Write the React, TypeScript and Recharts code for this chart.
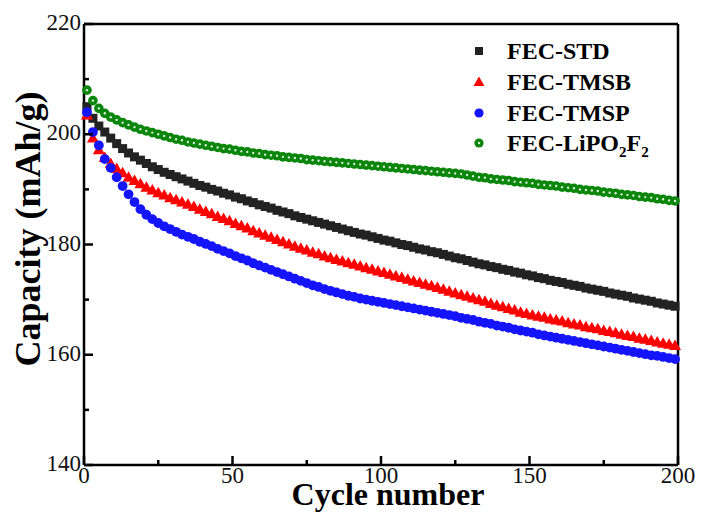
import {
  ScatterChart,
  Scatter,
  XAxis,
  YAxis,
  ReferenceLine,
  Customized,
} from "recharts";

const FONT = "'Times New Roman', 'Liberation Serif', serif";

const cycles = [
  1, 3, 5, 7, 9, 11, 13, 15, 17, 19,
  21, 23, 25, 27, 29, 31, 33, 35, 37, 39,
  41, 43, 45, 47, 49, 51, 53, 55, 57, 59,
  61, 63, 65, 67, 69, 71, 73, 75, 77, 79,
  81, 83, 85, 87, 89, 91, 93, 95, 97, 99,
  101, 103, 105, 107, 109, 111, 113, 115, 117, 119,
  121, 123, 125, 127, 129, 131, 133, 135, 137, 139,
  141, 143, 145, 147, 149, 151, 153, 155, 157, 159,
  161, 163, 165, 167, 169, 171, 173, 175, 177, 179,
  181, 183, 185, 187, 189, 191, 193, 195, 197, 199,
];

const fecStd = [
  205.0, 202.9, 201.5, 200.4, 199.3, 198.3, 197.4, 196.6, 195.9, 195.3,
  194.7, 194.1, 193.6, 193.1, 192.7, 192.3, 191.9, 191.5, 191.1, 190.7,
  190.4, 190.0, 189.7, 189.3, 189.0, 188.6, 188.3, 187.9, 187.6, 187.2,
  186.9, 186.6, 186.2, 185.9, 185.6, 185.2, 184.9, 184.6, 184.3, 184.0,
  183.7, 183.4, 183.1, 182.8, 182.5, 182.2, 181.9, 181.7, 181.4, 181.1,
  180.8, 180.6, 180.3, 180.0, 179.8, 179.5, 179.2, 179.0, 178.7, 178.5,
  178.2, 177.9, 177.6, 177.4, 177.1, 176.8, 176.5, 176.3, 176.0, 175.8,
  175.5, 175.3, 175.0, 174.8, 174.5, 174.3, 174.0, 173.8, 173.5, 173.3,
  173.1, 172.8, 172.6, 172.4, 172.1, 171.9, 171.7, 171.5, 171.2, 171.0,
  170.8, 170.6, 170.3, 170.1, 169.9, 169.7, 169.4, 169.2, 169.0, 168.8,
];

const fecTmsb = [
  203.5, 199.3, 197.2, 195.8, 194.7, 193.8, 193.0, 192.2, 191.6, 191.0,
  190.4, 189.9, 189.4, 189.0, 188.5, 188.1, 187.7, 187.3, 186.9, 186.4,
  186.0, 185.6, 185.1, 184.7, 184.3, 183.8, 183.4, 183.0, 182.5, 182.1,
  181.7, 181.3, 180.9, 180.5, 180.1, 179.7, 179.3, 179.0, 178.6, 178.3,
  177.9, 177.6, 177.3, 177.0, 176.7, 176.4, 176.1, 175.8, 175.5, 175.2,
  174.9, 174.6, 174.3, 174.0, 173.7, 173.4, 173.1, 172.8, 172.5, 172.2,
  171.9, 171.5, 171.2, 170.9, 170.6, 170.3, 170.0, 169.7, 169.3, 169.0,
  168.7, 168.4, 168.1, 167.7, 167.5, 167.2, 167.0, 166.8, 166.5, 166.3,
  166.1, 165.8, 165.6, 165.4, 165.1, 164.9, 164.7, 164.4, 164.2, 164.0,
  163.7, 163.5, 163.3, 163.0, 162.8, 162.6, 162.3, 162.1, 161.9, 161.7,
];

const fecTmsp = [
  204.0, 200.4, 198.0, 195.5, 193.9, 192.2, 190.6, 189.1, 187.7, 186.4,
  185.4, 184.6, 183.9, 183.3, 182.8, 182.3, 181.8, 181.4, 181.0, 180.5,
  180.1, 179.7, 179.2, 178.8, 178.4, 177.9, 177.5, 177.1, 176.6, 176.2,
  175.8, 175.4, 175.0, 174.6, 174.2, 173.8, 173.4, 173.0, 172.6, 172.3,
  171.9, 171.6, 171.3, 171.0, 170.7, 170.5, 170.2, 170.0, 169.8, 169.6,
  169.4, 169.2, 169.0, 168.8, 168.6, 168.4, 168.2, 168.0, 167.8, 167.6,
  167.4, 167.2, 167.0, 166.7, 166.5, 166.3, 166.0, 165.8, 165.6, 165.3,
  165.1, 164.9, 164.6, 164.4, 164.2, 164.0, 163.7, 163.5, 163.3, 163.1,
  162.9, 162.7, 162.5, 162.3, 162.1, 161.9, 161.7, 161.5, 161.3, 161.1,
  160.9, 160.7, 160.5, 160.3, 160.1, 159.9, 159.8, 159.6, 159.4, 159.2,
];

const fecLipo = [
  208.0, 206.1, 204.7, 203.8, 203.1, 202.6, 202.1, 201.7, 201.3, 200.9,
  200.6, 200.3, 200.0, 199.7, 199.4, 199.1, 198.9, 198.6, 198.4, 198.2,
  198.0, 197.8, 197.6, 197.4, 197.3, 197.1, 196.9, 196.8, 196.6, 196.5,
  196.3, 196.2, 196.1, 195.9, 195.8, 195.7, 195.6, 195.4, 195.3, 195.2,
  195.1, 195.0, 194.9, 194.8, 194.7, 194.6, 194.5, 194.4, 194.3, 194.2,
  194.1, 194.0, 193.9, 193.8, 193.7, 193.6, 193.5, 193.4, 193.3, 193.2,
  193.1, 193.0, 192.9, 192.8, 192.6, 192.4, 192.2, 192.1, 191.9, 191.8,
  191.7, 191.6, 191.4, 191.3, 191.2, 191.1, 190.9, 190.8, 190.7, 190.6,
  190.4, 190.3, 190.2, 190.0, 189.9, 189.8, 189.7, 189.5, 189.4, 189.3,
  189.1, 189.0, 188.9, 188.7, 188.6, 188.5, 188.3, 188.2, 188.0, 187.9,
];

const xTicks = [0, 25, 50, 75, 100, 125, 150, 175, 200];
const yTicks = [140, 150, 160, 170, 180, 190, 200, 210, 220];

const toPoints = (vals: number[]) => cycles.map((c, i) => ({ x: c, y: vals[i] }));

// marker shapes
const Square = (p: any) => (
  <rect x={p.cx - 4.5} y={p.cy - 4.5} width={9} height={9} fill="#222" />
);
const Triangle = (p: any) => (
  <path
    d={`M${p.cx},${p.cy - 6} L${p.cx + 6},${p.cy + 4.5} L${p.cx - 6},${p.cy + 4.5} Z`}
    fill="#ff0000"
  />
);
const BlueDot = (p: any) => <circle cx={p.cx} cy={p.cy} r={4.9} fill="#1414ff" />;
const GreenDot = (p: any) => (
  <g>
    <circle cx={p.cx} cy={p.cy} r={4.8} fill="#0a870a" />
    <circle cx={p.cx} cy={p.cy} r={1.2} fill="#d8ecd8" />
  </g>
);

const labelStyle = { fontFamily: FONT, fontSize: 23, fill: "#111" };

const XTick = (p: any) => {
  const v = p.payload.value;
  const major = v % 50 === 0;
  return (
    <g>
      <line x1={p.x} y1={p.y} x2={p.x} y2={p.y - (major ? 9 : 5)} stroke="#000" strokeWidth={2.5} />
      {major && (
        <text x={p.x} y={p.y + 18} textAnchor="middle" style={labelStyle}>
          {v}
        </text>
      )}
    </g>
  );
};

const YTick = (p: any) => {
  const v = p.payload.value;
  const major = v % 20 === 0;
  return (
    <g>
      <line x1={p.x} y1={p.y} x2={p.x + (major ? 9 : 5)} y2={p.y} stroke="#000" strokeWidth={2.5} />
      {major && (
        <text x={p.x - 3} y={p.y + 6} textAnchor="end" style={labelStyle}>
          {v}
        </text>
      )}
    </g>
  );
};

const Titles = () => (
  <g style={{ fontFamily: FONT, fontWeight: "bold" }} fill="#000">
    <text x={388} y={505} textAnchor="middle" fontSize={32}>
      Cycle number
    </text>
    <text x={40} y={229} textAnchor="middle" fontSize={36} transform="rotate(-90 40 229)">
      Capacity (mAh/g)
    </text>
  </g>
);

const LegendBox = () => {
  const tx = 507;
  const mx = 479;
  return (
    <g style={{ fontFamily: FONT, fontWeight: "bold", fontSize: 24 }} fill="#000">
      <rect x={mx - 4} y={47} width={8} height={8} fill="#222" />
      <text x={tx} y={59}>FEC-STD</text>
      <path d={`M${mx},${76.5} L${mx + 5.5},${86} L${mx - 5.5},${86} Z`} fill="#ff0000" />
      <text x={tx} y={90}>FEC-TMSB</text>
      <circle cx={mx} cy={113} r={4.6} fill="#1414ff" />
      <text x={tx} y={121}>FEC-TMSP</text>
      <circle cx={mx} cy={143} r={4.6} fill="#0a870a" />
      <circle cx={mx} cy={143} r={1.2} fill="#d8ecd8" />
      <text x={tx} y={151}>
        FEC-LiPO
        <tspan style={{ fontSize: 15 }} dy={6}>2</tspan>
        <tspan dy={-6}>F</tspan>
        <tspan style={{ fontSize: 15 }} dy={6}>2</tspan>
      </text>
    </g>
  );
};

export default function App() {
  return (
    <div style={{ position: "absolute", left: 0, top: 0, width: 701, height: 513, background: "#fff" }}>
      <ScatterChart width={701} height={513} margin={{ top: 24, right: 23, left: 0, bottom: 0 }}>
        <XAxis
          type="number"
          dataKey="x"
          domain={[0, 200]}
          ticks={xTicks}
          interval={0}
          height={48}
          tickSize={0}
          tickMargin={0}
          tick={<XTick />}
          axisLine={{ stroke: "#000", strokeWidth: 2.5 }}
        />
        <YAxis
          type="number"
          dataKey="y"
          domain={[140, 220]}
          ticks={yTicks}
          interval={0}
          width={84}
          tickSize={0}
          tickMargin={0}
          tick={<YTick />}
          axisLine={{ stroke: "#000", strokeWidth: 2.5 }}
        />
        <ReferenceLine x={200} stroke="#000" strokeWidth={2.5} />
        <ReferenceLine y={220} stroke="#000" strokeWidth={2.5} />
        <Scatter name="FEC-STD" data={toPoints(fecStd)} shape={Square} isAnimationActive={false} />
        <Scatter name="FEC-TMSB" data={toPoints(fecTmsb)} shape={Triangle} isAnimationActive={false} />
        <Scatter name="FEC-TMSP" data={toPoints(fecTmsp)} shape={BlueDot} isAnimationActive={false} />
        <Scatter name="FEC-LiPO2F2" data={toPoints(fecLipo)} shape={GreenDot} isAnimationActive={false} />
        <Customized component={Titles} />
        <Customized component={LegendBox} />
      </ScatterChart>
    </div>
  );
}
